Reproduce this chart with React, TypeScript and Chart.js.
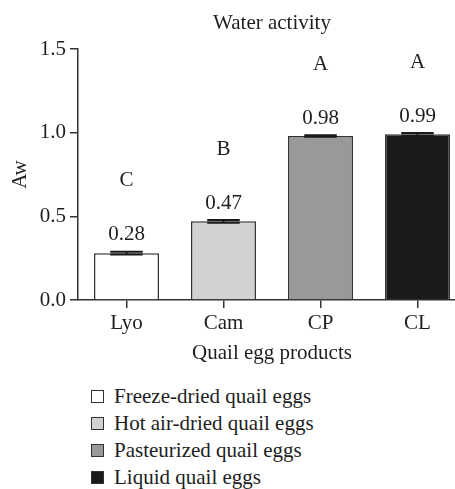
import React, { useEffect, useRef } from 'react';
import { Chart, registerables } from 'chart.js';

Chart.register(...registerables);

const chartTitle = 'Water activity';
const xTitle = 'Quail egg products';
const yTitle = 'Aw';
const categories = ['Lyo', 'Cam', 'CP', 'CL'];
const seriesNames = [
  'Freeze-dried quail eggs',
  'Hot air-dried quail eggs',
  'Pasteurized quail eggs',
  'Liquid quail eggs',
];
const values = [0.28, 0.47, 0.98, 0.99];
const errors = [0.008, 0.008, 0.004, 0.008];
const valueLabels = ['0.28', '0.47', '0.98', '0.99'];
const letters = ['C', 'B', 'A', 'A'];
const yTicks = [0, 0.5, 1.0, 1.5];

const barColors = ['#ffffff', '#d1d3d2', '#999999', '#1a1a1a'];
const FONT = '"Liberation Serif", "Times New Roman", serif';
const FS = 21;
const TEXT = '#1e1e1e';
const AXIS = '#333333';

const annotPlugin = {
  id: 'annot',
  afterDatasetsDraw(chart: any) {
    const ctx = chart.ctx;
    const meta = chart.getDatasetMeta(0);
    const y = chart.scales.y;
    const area = chart.chartArea;
    ctx.save();
    ctx.fillStyle = TEXT;
    ctx.font = `${FS}px ${FONT}`;
    ctx.textAlign = 'center';
    ctx.textBaseline = 'middle';
    ctx.fillText(chartTitle, (area.left + area.right) / 2, 23);
    ctx.restore();
    meta.data.forEach((bar: any, i: number) => {
      const x = bar.x;
      const w = bar.width;
      const top = y.getPixelForValue(values[i] + errors[i]);
      const bot = y.getPixelForValue(values[i] - errors[i]);
      const cw = w * 0.5;
      ctx.save();
      ctx.strokeStyle = '#1a1a1a';
      ctx.lineWidth = 2;
      ctx.beginPath();
      ctx.moveTo(x, top);
      ctx.lineTo(x, bot);
      ctx.moveTo(x - cw / 2, top);
      ctx.lineTo(x + cw / 2, top);
      ctx.moveTo(x - cw / 2, bot);
      ctx.lineTo(x + cw / 2, bot);
      ctx.stroke();
      ctx.fillStyle = TEXT;
      ctx.font = `${FS}px ${FONT}`;
      ctx.textAlign = 'center';
      ctx.textBaseline = 'middle';
      ctx.fillText(valueLabels[i], x, top - 17);
      ctx.fillText(letters[i], x, top - 71);
      ctx.restore();
    });
  },
};

export default function App() {
  const ref = useRef<HTMLCanvasElement | null>(null);

  useEffect(() => {
    if (!ref.current) return;
    const font = { family: FONT, size: FS, weight: 'normal' as const };
    const chart = new Chart(ref.current, {
      type: 'bar',
      data: {
        labels: categories,
        datasets: [
          {
            label: yTitle,
            data: values,
            backgroundColor: barColors,
            borderColor: AXIS,
            borderWidth: 1.5,
            categoryPercentage: 1,
            barPercentage: 0.67,
          },
        ],
      },
      options: {
        animation: false,
        responsive: false,
        layout: { padding: { left: 8, right: 78, top: 49, bottom: 0 } },
        plugins: {
          legend: { display: false },
          tooltip: { enabled: false },
          title: { display: false },
        },
        scales: {
          x: {
            offset: true,
            grid: {
              display: true,
              drawOnChartArea: false,
              drawTicks: true,
              tickLength: 8,
              offset: false,
              color: AXIS,
              lineWidth: 1.5,
            },
            border: { display: true, color: AXIS, width: 1.5 },
            ticks: { font, color: TEXT, padding: 3 },
            title: {
              display: true,
              text: xTitle,
              font,
              color: TEXT,
              padding: { top: 4, bottom: 4 },
            },
            afterFit(s: any) {
              s.height = 70;
            },
          },
          y: {
            min: 0,
            max: 1.5,
            afterBuildTicks(s: any) {
              s.ticks = yTicks.map((v) => ({ value: v }));
            },
            ticks: {
              font,
              color: TEXT,
              padding: 4,
              callback: (v: any) => Number(v).toFixed(1),
            },
            grid: {
              drawOnChartArea: false,
              drawTicks: true,
              tickLength: 8,
              color: AXIS,
              lineWidth: 1.5,
            },
            border: { display: true, color: AXIS, width: 1.5 },
            title: {
              display: true,
              text: yTitle,
              font,
              color: TEXT,
              padding: { top: 0, bottom: 0 },
            },
            afterFit(s: any) {
              s.width = 70;
            },
          },
        },
      },
      plugins: [annotPlugin],
    });
    return () => chart.destroy();
  }, []);

  return (
    <div
      style={{
        position: 'absolute',
        left: 0,
        top: 0,
        width: 455,
        height: 489,
        overflow: 'hidden',
        background: '#fff',
        fontFamily: FONT,
        color: TEXT,
      }}
    >
      <canvas ref={ref} width={544} height={370} style={{ display: 'block' }} />
      <div style={{ position: 'absolute', left: 91, top: 383 }}>
        {seriesNames.map((n, i) => (
          <div
            key={n}
            style={{ display: 'flex', alignItems: 'center', height: 27, fontSize: FS, whiteSpace: 'nowrap' }}
          >
            <span
              style={{
                display: 'inline-block',
                width: 13,
                height: 13,
                boxSizing: 'border-box',
                border: `1px solid ${AXIS}`,
                background: barColors[i],
                marginRight: 10,
                flex: 'none',
              }}
            />
            <span>{n}</span>
          </div>
        ))}
      </div>
    </div>
  );
}
